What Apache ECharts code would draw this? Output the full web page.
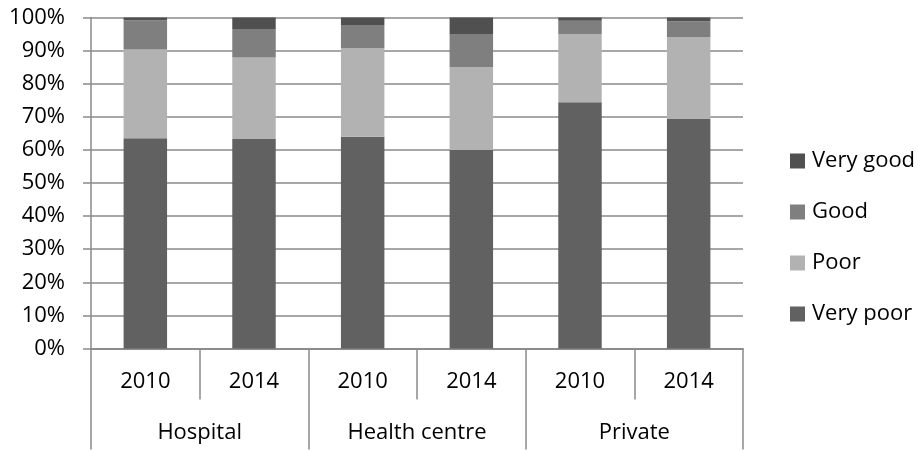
<!DOCTYPE html>
<html>
<head>
<meta charset="utf-8">
<script src="https://cdn.jsdelivr.net/npm/echarts@6/dist/echarts.min.js"></script>
<style>html,body{margin:0;padding:0;background:#fff;}#c{width:918px;height:450px;}</style>
</head>
<body>
<div id="c"></div>
<script>
const years = ['2010', '2014', '2010', '2014', '2010', '2014'];
const groups = ['Hospital', 'Health centre', 'Private'];
const yTicks = [0, 10, 20, 30, 40, 50, 60, 70, 80, 90, 100];
const veryPoor = [63.5, 63.3, 64.0, 60.0, 74.4, 69.3];
const poor = [26.8, 24.6, 26.7, 25.0, 20.6, 24.8];
const good = [8.9, 8.6, 7.0, 10.0, 4.0, 4.8];
const veryGood = [0.8, 3.5, 2.3, 5.0, 1.0, 1.1];

const FONT = 'Open Sans';
const FS = 22;
const axisGray = '#8a8a8a';
const LW = 1.5;

const chart = echarts.init(document.getElementById('c'), null, {renderer: 'canvas'});

function bar(name, data, color) {
  return {
    name: name, type: 'bar', stack: 'total', data: data,
    xAxisIndex: 0, yAxisIndex: 0,
    barCategoryGap: '60%',
    itemStyle: {color: color},
    emphasis: {disabled: true},
    animation: false
  };
}

chart.setOption({
  animation: false,
  textStyle: {fontFamily: FONT},
  grid: {left: 91, right: 175, top: 17.5, bottom: 101.5, containLabel: false},
  legend: {
    orient: 'vertical', left: 785, top: 145,
    itemWidth: 15, itemHeight: 15, itemGap: 29,
    icon: 'rect',
    data: ['Very good', 'Good', 'Poor', 'Very poor'],
    textStyle: {fontFamily: FONT, fontSize: FS, color: '#000', padding: [0, 0, 0, 2]},
    selectedMode: false
  },
  xAxis: [
    {
      type: 'category', data: years, position: 'bottom',
      axisLine: {show: true, lineStyle: {color: axisGray, width: LW}},
      axisTick: {show: true, interval: 0, length: 51, lineStyle: {color: axisGray, width: LW}},
      axisLabel: {interval: 0, margin: 22, fontFamily: FONT, fontSize: FS, color: '#000'},
      splitLine: {show: false}
    },
    {
      type: 'category', data: groups, position: 'bottom', offset: 0,
      axisLine: {show: true, lineStyle: {color: axisGray, width: LW}},
      axisTick: {show: true, interval: 0, length: 101, lineStyle: {color: axisGray, width: LW}},
      axisLabel: {interval: 0, margin: 73, fontFamily: FONT, fontSize: FS, color: '#000'},
      splitLine: {show: false}
    }
  ],
  yAxis: {
    type: 'value', min: yTicks[0], max: yTicks[yTicks.length - 1], interval: 10,
    axisLine: {show: true, lineStyle: {color: axisGray, width: LW}},
    axisTick: {show: true, length: 8, lineStyle: {color: axisGray, width: LW}},
    axisLabel: {margin: 26, fontFamily: FONT, fontSize: FS, color: '#000', formatter: '{value}%'},
    splitLine: {show: true, lineStyle: {color: axisGray, width: LW}}
  },
  series: [
    bar('Very poor', veryPoor, '#616161'),
    bar('Poor', poor, '#b2b2b2'),
    bar('Good', good, '#7f7f7f'),
    bar('Very good', veryGood, '#505050')
  ]
});
</script>
</body>
</html>
